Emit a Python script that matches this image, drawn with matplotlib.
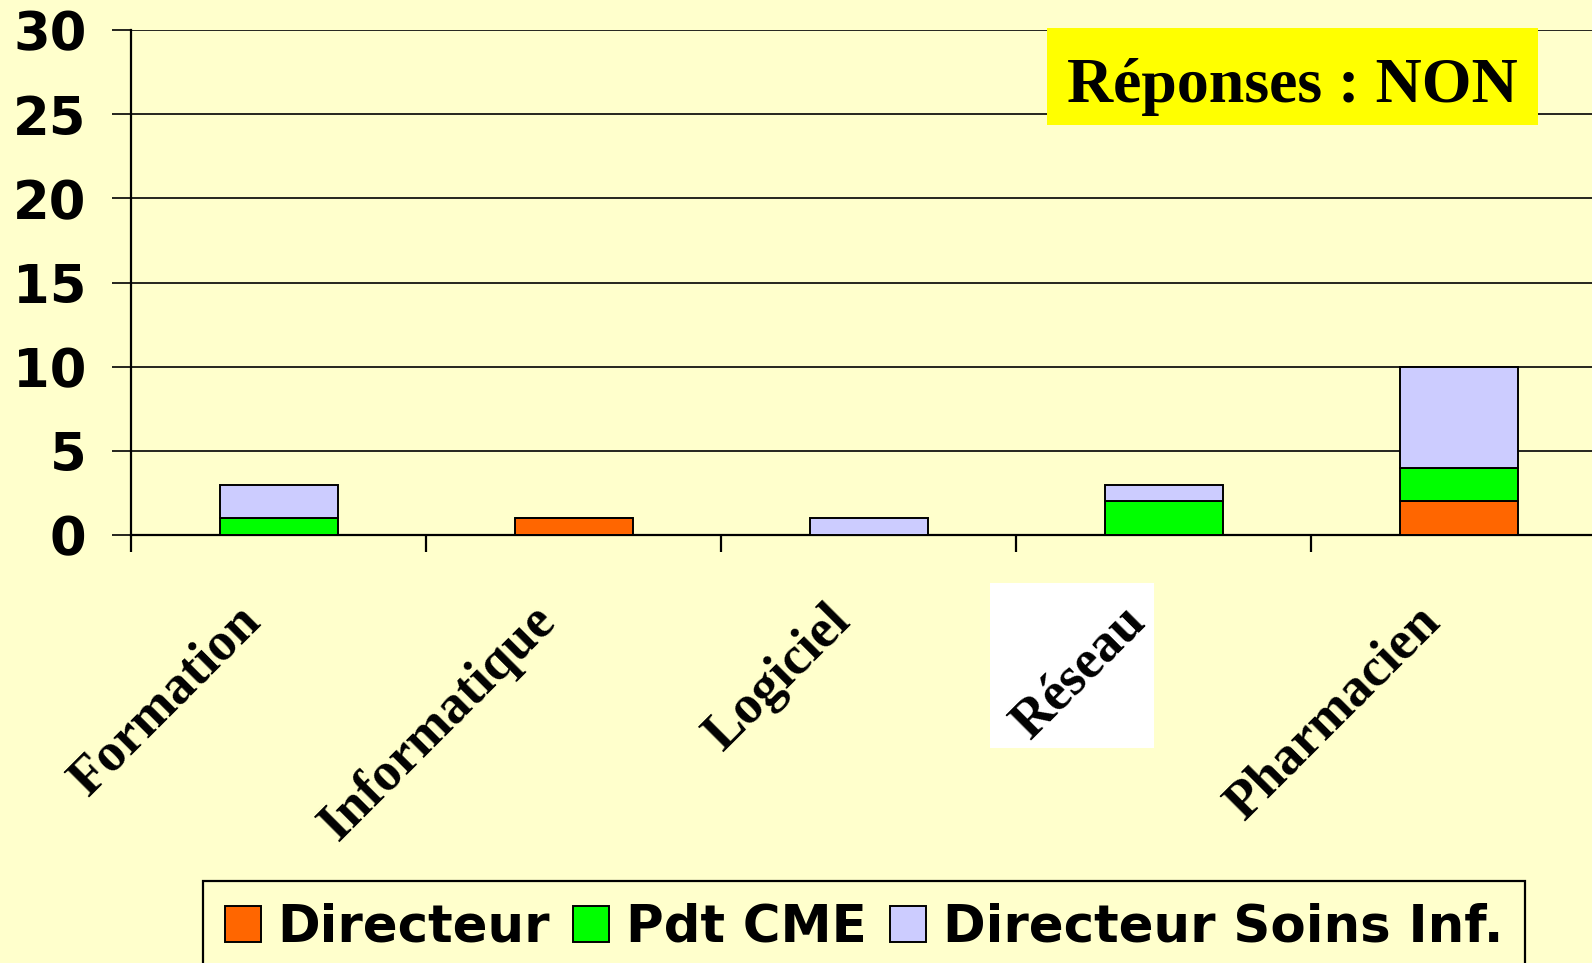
import matplotlib
matplotlib.use("Agg")
import matplotlib.pyplot as plt
import numpy as np
from matplotlib.patches import Rectangle
from matplotlib.transforms import ScaledTranslation, IdentityTransform

# data
categories = ["Formation", "Informatique", "Logiciel", "Réseau", "Pharmacien"]
series_names = ["Directeur", "Pdt CME", "Directeur Soins Inf."]
directeur = [0, 1, 0, 0, 2]
pdt_cme = [1, 0, 0, 2, 2]
dir_soins = [2, 0, 1, 1, 6]
y_ticks = [0, 5, 10, 15, 20, 25, 30]
title = "Réponses : NON"

BG = "#FFFFCC"
COLORS = ["#FF6600", "#00FF00", "#CCCCFF"]

W, H = 1592, 963
fig = plt.figure(figsize=(W / 100, H / 100), dpi=100, facecolor=BG)
ax = fig.add_axes([131 / W, 1 - 535 / H, 1475 / W, 505 / H])
ax.set_facecolor(BG)

x = np.arange(len(categories))
bottom = np.zeros(len(categories))
handles = []
for vals, name, col in zip([directeur, pdt_cme, dir_soins], series_names, COLORS):
    b = ax.bar(x, vals, width=0.4, bottom=bottom, color=col, edgecolor="black",
               linewidth=1.4, label=name, zorder=3)
    handles.append(b)
    bottom += np.array(vals)

ax.set_xlim(-0.5, len(categories) - 0.5)
ax.set_ylim(0, 30)
ax.set_yticks(y_ticks)
ax.yaxis.grid(True, color="black", linewidth=1.2)
ax.set_axisbelow(True)
for s in ["top", "right"]:
    ax.spines[s].set_visible(False)
for s in ["left", "bottom"]:
    ax.spines[s].set_linewidth(1.6)
    ax.spines[s].set_color("black")

ax.tick_params(axis="y", direction="out", length=14, width=1.2, pad=18,
               labelsize=38)
for lab in ax.get_yticklabels():
    lab.set_fontweight("bold")
    lab.set_family("DejaVu Sans")

# category labels at centres, tick marks at the boundaries
ax.set_xticks(x)
ax.set_xticks(np.arange(len(categories) + 1) - 0.5, minor=True)
ax.tick_params(axis="x", which="major", length=0, pad=57)
ax.tick_params(axis="x", which="minor", direction="out", length=12, width=1.6)
ax.set_xticklabels(categories, rotation=45, ha="right", va="center",
                   rotation_mode="anchor", fontsize=39,
                   family="Liberation Serif", fontweight="bold")
for lab in ax.get_xticklabels():
    lab.set_transform(lab.get_transform() +
                      ScaledTranslation(-26 / 100, 0, fig.dpi_scale_trans))

# yellow title box
fig.add_artist(Rectangle((1047 / W, 1 - 125 / H), 491 / W, 97 / H,
                         transform=fig.transFigure, facecolor="#FFFF00",
                         edgecolor="none", zorder=2))
fig.text(1292 / W, 1 - 102 / H, title, fontsize=46, family="Liberation Serif",
         fontweight="bold", ha="center", va="baseline", zorder=3)

leg = fig.legend(handles, series_names, loc="upper left",
                 bbox_to_anchor=(203 / W, 1 - 881 / H), ncol=3,
                 prop=dict(family="DejaVu Sans", weight="bold", size=37),
                 frameon=True, fancybox=False, edgecolor="black",
                 facecolor=BG, framealpha=1, borderpad=0.42,
                 handlelength=0.7, handleheight=0.7, handletextpad=0.33,
                 columnspacing=0.45, borderaxespad=0)
leg.get_frame().set_linewidth(1.6)

# white square behind the "Réseau" label, as in the reference
fig.canvas.draw()
ext = ax.get_xticklabels()[3].get_window_extent()
side = max(ext.width, ext.height) + 12
cx, cy = (ext.x0 + ext.x1) / 2 - 7, (ext.y0 + ext.y1) / 2 + 7
fig.add_artist(Rectangle((cx - side / 2, cy - side / 2), side, side,
                         transform=IdentityTransform(), facecolor="white",
                         edgecolor="none", zorder=-1))

fig.savefig("out.png", dpi=100, facecolor=BG)
